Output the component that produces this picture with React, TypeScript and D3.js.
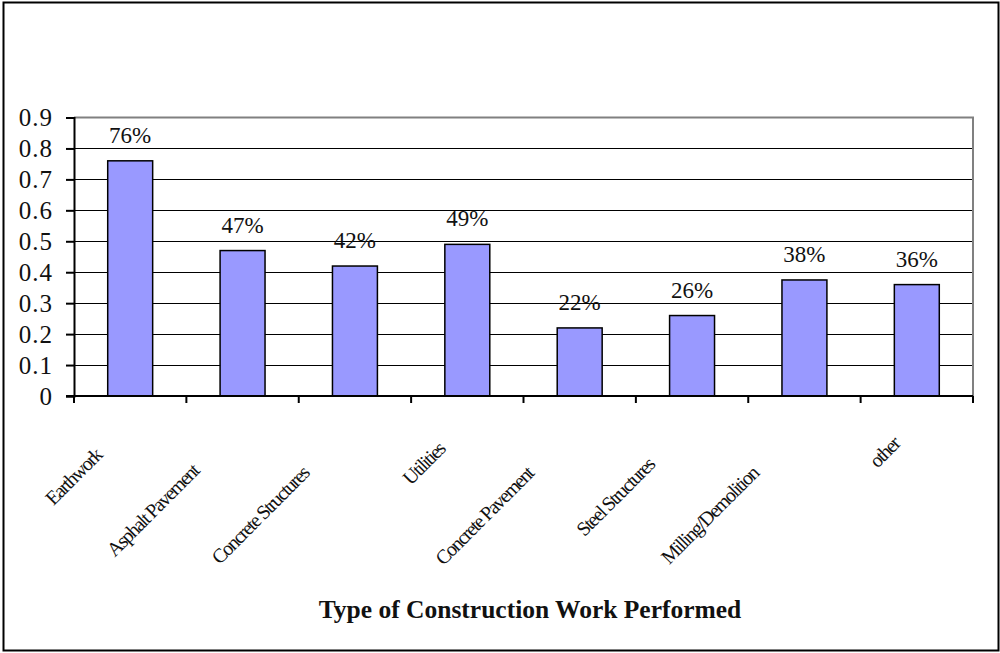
import React, { useRef, useEffect } from "react";
import * as d3 from "d3";

const categories = [
  "Earthwork",
  "Asphalt Pavement",
  "Concrete Structures",
  "Utilities",
  "Concrete Pavement",
  "Steel Structures",
  "Milling/Demolition",
  "other",
];
const shares = [0.76, 0.47, 0.42, 0.49, 0.22, 0.26, 0.375, 0.36];
const valueLabels = ["76%", "47%", "42%", "49%", "22%", "26%", "38%", "36%"];
const yTicks = [0, 0.1, 0.2, 0.3, 0.4, 0.5, 0.6, 0.7, 0.8, 0.9];
const xTitle = "Type of Construction Work Performed";

const FONT = "'Liberation Serif', 'Times New Roman', serif";

const App = () => {
  const svgRef = useRef<SVGSVGElement>(null);

  useEffect(() => {
    const svg = d3.select(svgRef.current);
    svg.selectAll("*").remove();
    const width = 1000;
    const height = 653;
    const margin = { top: 117.5, right: 27, bottom: 257, left: 74 };

    const x = d3
      .scaleBand()
      .domain(categories)
      .range([margin.left, width - margin.right])
      .paddingInner(0.6)
      .paddingOuter(0.3);
    const step = x.step();
    const bandStart = (i: number) => margin.left + i * step;

    const y = d3
      .scaleLinear()
      .domain([0, 0.9])
      .range([height - margin.bottom, margin.top]);

    // outer frame
    svg
      .append("rect")
      .attr("x", 3.5)
      .attr("y", 2.5)
      .attr("width", 995)
      .attr("height", 648)
      .attr("fill", "white")
      .attr("stroke", "black")
      .attr("stroke-width", 2);

    // gridlines
    svg
      .append("g")
      .selectAll("line")
      .data(yTicks.filter((t) => t > 0 && t < 0.9))
      .join("line")
      .attr("x1", margin.left)
      .attr("x2", width - margin.right)
      .attr("y1", (d) => Math.round(y(d)) + 0.5)
      .attr("y2", (d) => Math.round(y(d)) + 0.5)
      .attr("stroke", "black")
      .attr("stroke-width", 1);

    // top and right plot border (grey)
    svg
      .append("path")
      .attr(
        "d",
        `M${margin.left},${y(0.9)}H${width - margin.right}V${y(0)}`
      )
      .attr("fill", "none")
      .attr("stroke", "#808080")
      .attr("stroke-width", 2);

    // bars
    svg
      .append("g")
      .selectAll("rect")
      .data(categories)
      .join("rect")
      .attr("x", (d) => x(d)!)
      .attr("y", (d, i) => y(shares[i]))
      .attr("width", x.bandwidth())
      .attr("height", (d, i) => y(0) - y(shares[i]))
      .attr("fill", "#9999FF")
      .attr("stroke", "black")
      .attr("stroke-width", 1.5);

    // value labels
    svg
      .append("g")
      .selectAll("text")
      .data(categories)
      .join("text")
      .attr("x", (d) => x(d)! + x.bandwidth() / 2)
      .attr("y", (d, i) => y(shares[i]) - 18)
      .attr("text-anchor", "middle")
      .attr("font-family", FONT)
      .attr("font-size", 23)
      .attr("fill", "#111")
      .text((d, i) => valueLabels[i]);

    // y axis
    const yAxis = svg
      .append("g")
      .attr("transform", `translate(${margin.left},0)`)
      .call(
        d3
          .axisLeft(y)
          .tickValues(yTicks)
          .tickSize(8)
          .tickPadding(13)
          .tickFormat((d) => String(d))
      );
    yAxis.select(".domain").attr("stroke", "black").attr("stroke-width", 2);
    yAxis.selectAll(".tick line").attr("stroke-width", 2);
    yAxis
      .selectAll(".tick text")
      .attr("font-family", FONT)
      .attr("font-size", 25)
      .attr("letter-spacing", 1)
      .attr("fill", "#111");

    // x axis with ticks at band boundaries
    const xAxisG = svg.append("g");
    xAxisG
      .append("line")
      .attr("x1", margin.left - 8)
      .attr("x2", width - margin.right)
      .attr("y1", y(0))
      .attr("y2", y(0))
      .attr("stroke", "black")
      .attr("stroke-width", 2);
    xAxisG
      .selectAll(".xtick")
      .data(d3.range(categories.length + 1))
      .join("line")
      .attr("class", "xtick")
      .attr("x1", (i) => bandStart(i))
      .attr("x2", (i) => bandStart(i))
      .attr("y1", y(0))
      .attr("y2", y(0) + 7)
      .attr("stroke", "black")
      .attr("stroke-width", 2);

    // rotated category labels
    const labels = svg
      .append("g")
      .selectAll("text")
      .data(categories)
      .join("text")
      .attr("text-anchor", "end")
      .attr("font-family", FONT)
      .attr("font-size", 20)
      .attr("letter-spacing", -1.6)
      .attr("fill", "#111")
      .text((d) => d);
    labels.each(function (d) {
      const node = this as SVGTextElement;
      const len = node.getComputedTextLength();
      const dx = 0.707 * len + 9;
      const bc = x(d)! + x.bandwidth() / 2;
      const ex = bc - 2 - 0.43 * dx;
      const ey = 431 + 0.44 * dx;
      d3.select(node).attr("transform", `translate(${ex},${ey}) rotate(-45)`);
    });

    // axis title
    svg
      .append("text")
      .attr("x", 530)
      .attr("y", 618)
      .attr("text-anchor", "middle")
      .attr("font-family", FONT)
      .attr("font-weight", "bold")
      .attr("font-size", 25.5)
      .attr("fill", "#111")
      .text(xTitle);
  }, []);

  return (
    <svg
      ref={svgRef}
      width={1000}
      height={653}
      style={{ position: "absolute", left: 0, top: 0 }}
    ></svg>
  );
};

export default App;
